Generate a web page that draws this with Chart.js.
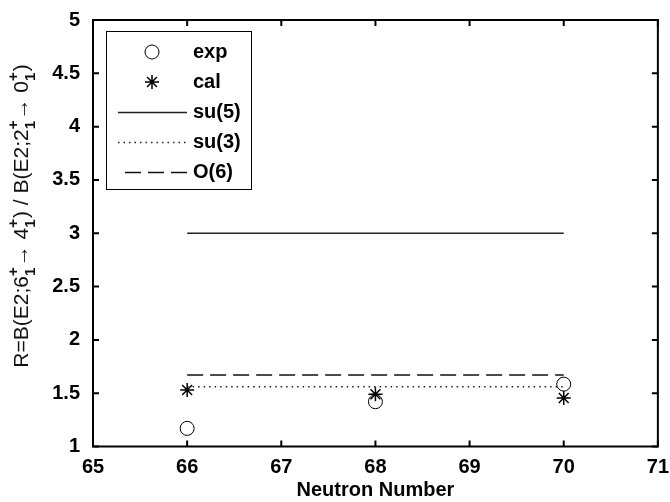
<!DOCTYPE html>
<html>
<head>
<meta charset="utf-8">
<script src="https://cdn.jsdelivr.net/npm/chart.js@4"></script>
<style>
  html, body { margin: 0; padding: 0; background: #fff; }
  #grafica { display: block; }
</style>
</head>
<body>
<canvas id="grafica" width="670" height="502"></canvas>
<script>
  // datos
  const neutronNumber = [66, 68, 70];
  const expR = [1.17, 1.42, 1.585];
  const calR = [1.53, 1.49, 1.455];
  const limitX = [66, 70];
  const su5R = [3, 3];
  const su3R = [1.56, 1.56];
  const o6R = [1.67, 1.67];
  const serieNombres = ['exp', 'cal', 'su(5)', 'su(3)', 'O(6)'];

  const fuente = '"Liberation Sans", Arial, sans-serif';

  const puntos = (xs, ys) => xs.map((x, i) => ({ x: x, y: ys[i] }));

  // leyenda dibujada a mano (estilo matlab)
  const leyendaPlugin = {
    id: 'leyenda',
    afterDraw(chart) {
      const ctx = chart.ctx;
      const box = { x: 106, y: 31, w: 145, h: 158 };
      ctx.save();
      ctx.fillStyle = '#fff';
      ctx.fillRect(box.x, box.y, box.w, box.h);
      ctx.strokeStyle = '#000';
      ctx.lineWidth = 1;
      ctx.strokeRect(box.x + 0.5, box.y + 0.5, box.w, box.h);
      ctx.textBaseline = 'middle';
      chart.data.datasets.forEach((ds, i) => {
        const y = 52 + i * 30;
        ctx.save();
        ctx.strokeStyle = ds.borderColor;
        if (ds.showLine === false) {
          ctx.fillStyle = ds.pointBackgroundColor;
          ctx.lineWidth = ds.pointBorderWidth;
          Chart.helpers.drawPoint(ctx, {
            pointStyle: ds.pointStyle,
            radius: ds.pointRadius,
            borderWidth: ds.pointBorderWidth,
            rotation: 0
          }, 152, y);
        } else {
          ctx.lineWidth = ds.borderWidth;
          ctx.setLineDash(ds.borderDash || []);
          ctx.beginPath();
          ctx.moveTo(ds.borderDash && ds.borderDash[0] > 5 ? 125 : 118, y + 0.5);
          ctx.lineTo(187, y + 0.5);
          ctx.stroke();
        }
        ctx.restore();
        ctx.font = 'bold 20px ' + fuente;
        ctx.fillStyle = '#000';
        ctx.fillText(ds.label, 193, y);
      });
      ctx.restore();
    }
  };

  // caja completa y marcas hacia adentro
  const ejesPlugin = {
    id: 'ejes',
    afterDraw(chart) {
      const { ctx, chartArea: a, scales } = chart;
      ctx.save();
      ctx.strokeStyle = '#000';
      ctx.lineWidth = 2;
      ctx.strokeRect(a.left, a.top, a.right - a.left, a.bottom - a.top);
      ctx.beginPath();
      scales.x.ticks.forEach(t => {
        const px = scales.x.getPixelForValue(t.value);
        ctx.moveTo(px, a.bottom); ctx.lineTo(px, a.bottom - 6);
        ctx.moveTo(px, a.top); ctx.lineTo(px, a.top + 6);
      });
      scales.y.ticks.forEach(t => {
        const py = scales.y.getPixelForValue(t.value);
        ctx.moveTo(a.left, py); ctx.lineTo(a.left + 6, py);
        ctx.moveTo(a.right, py); ctx.lineTo(a.right - 6, py);
      });
      ctx.stroke();
      ctx.restore();
    }
  };

  // titulo del eje y con super/subindices apilados
  const tituloYPlugin = {
    id: 'tituloY',
    afterDraw(chart) {
      const ctx = chart.ctx;
      const partes = [
        ['t', 'R=B(E2;6'], ['s', '+', '1'], ['t', '\u2192 4'], ['s', '+', '1'],
        ['t', ') / B(E2;2'], ['s', '+', '1'], ['t', '\u2192 0'], ['s', '+', '1'], ['t', ')']
      ];
      const fNormal = '21px ' + fuente;
      const fScript = 'bold 15px ' + fuente;
      let total = 0;
      const anchos = partes.map(p => {
        if (p[0] === 't') { ctx.font = fNormal; return ctx.measureText(p[1]).width; }
        ctx.font = fScript;
        return Math.max(ctx.measureText(p[1]).width, ctx.measureText(p[2]).width) + 1;
      });
      anchos.forEach(w => total += w);
      ctx.save();
      ctx.translate(28, 216);
      ctx.rotate(-Math.PI / 2);
      ctx.fillStyle = '#111';
      ctx.textBaseline = 'alphabetic';
      let x = -total / 2;
      partes.forEach((p, i) => {
        if (p[0] === 't') {
          ctx.font = fNormal;
          ctx.fillText(p[1], x, 0);
        } else {
          ctx.font = fScript;
          ctx.fillText(p[1], x, -10);
          ctx.fillText(p[2], x, 7);
        }
        x += anchos[i];
      });
      ctx.restore();
    }
  };

  const config = {
    type: 'scatter',
    data: {
      datasets: [
        {
          label: serieNombres[0],
          data: puntos(neutronNumber, expR),
          showLine: false,
          pointStyle: 'circle',
          pointRadius: 7,
          pointBorderWidth: 1,
          borderColor: '#000',
          backgroundColor: 'rgba(0,0,0,0)',
          pointBorderColor: '#000',
          pointBackgroundColor: 'rgba(0,0,0,0)'
        },
        {
          label: serieNombres[1],
          data: puntos(neutronNumber, calR),
          showLine: false,
          pointStyle: 'star',
          pointRadius: 7,
          pointBorderWidth: 1.5,
          borderColor: '#000',
          pointBorderColor: '#000',
          pointBackgroundColor: '#000'
        },
        {
          label: serieNombres[2],
          data: puntos(limitX, su5R),
          showLine: true,
          borderColor: '#222',
          borderWidth: 1.5,
          pointRadius: 0
        },
        {
          label: serieNombres[3],
          data: puntos(limitX, su3R),
          showLine: true,
          borderColor: '#222',
          borderWidth: 1.5,
          borderDash: [1.5, 4],
          pointRadius: 0
        },
        {
          label: serieNombres[4],
          data: puntos(limitX, o6R),
          showLine: true,
          borderColor: '#111',
          borderWidth: 1.5,
          borderDash: [16, 7],
          pointRadius: 0
        }
      ]
    },
    options: {
      responsive: false,
      animation: false,
      layout: { padding: { left: 0, right: 11, top: 20, bottom: 0 } },
      plugins: {
        legend: { display: false },
        tooltip: { enabled: false }
      },
      scales: {
        x: {
          type: 'linear',
          min: 65,
          max: 71,
          grid: { display: false },
          border: { display: false },
          ticks: {
            stepSize: 1,
            color: '#000',
            padding: 1,
            maxRotation: 0,
            font: { family: fuente, size: 20, weight: 'bold' }
          },
          title: {
            display: true,
            text: 'Neutron Number',
            color: '#000',
            padding: { top: 0, bottom: 0 },
            font: { family: fuente, size: 20, weight: 'bold' }
          },
          afterFit(scale) { scale.height = 55.5; }
        },
        y: {
          type: 'linear',
          min: 1,
          max: 5,
          grid: { display: false },
          border: { display: false },
          ticks: {
            stepSize: 0.5,
            color: '#000',
            padding: 5,
            callback: value => String(Number(value.toFixed(1))),
            font: { family: fuente, size: 20, weight: 'bold' }
          },
          afterFit(scale) { scale.width = 93; }
        }
      }
    },
    plugins: [ejesPlugin, leyendaPlugin, tituloYPlugin]
  };

  window.addEventListener('DOMContentLoaded', () => {
    const canvas = document.getElementById('grafica');
    if (canvas) new Chart(canvas, config);
  });
</script>
</body>
</html>
